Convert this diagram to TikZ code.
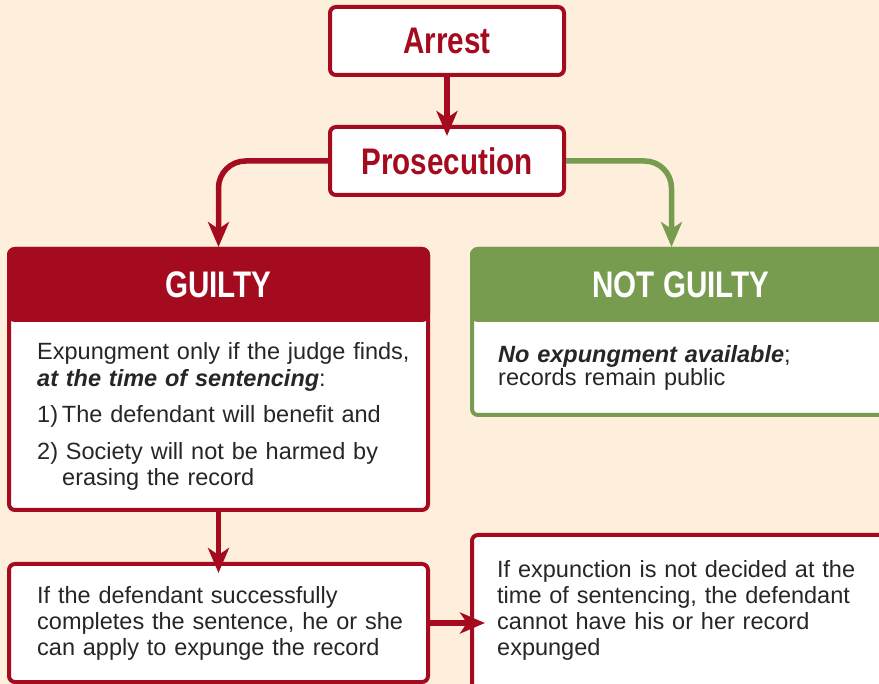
\documentclass[tikz,border=0pt]{standalone}
\usepackage{fontspec}
\setmainfont{Liberation Sans}
\newfontfamily\condf[FakeStretch=0.8]{Liberation Sans}
\usetikzlibrary{arrows.meta}
\definecolor{bgc}{HTML}{FDEFDC}
\definecolor{crim}{HTML}{A50B1F}
\definecolor{grn}{HTML}{779C4F}
\definecolor{txt}{HTML}{262626}
\begin{document}
\begin{tikzpicture}[x=1pt,y=-1pt,
  redbox/.style={draw=crim, line width=4pt, fill=white, rounded corners=6pt, inner sep=0pt},
  grnbox/.style={draw=grn, line width=4pt, fill=white, rounded corners=6pt, inner sep=0pt},
  titletext/.style={font=\condf\bfseries\fontsize{37}{40}\selectfont, inner sep=0pt},
  bodytext/.style={font=\fontsize{23.5}{26.5}\selectfont, text=txt, anchor=base west, align=left, inner sep=0pt},
  arr/.style={line width=5.5pt, -{Stealth[length=25pt,width=21pt,inset=7pt]}},
]
\useasboundingbox (0,0) rectangle (879,684);
\fill[bgc] (0,0) rectangle (879,684);
\clip (0,0) rectangle (879,684);

% top boxes
\node[redbox, minimum width=234pt, minimum height=68pt, text=crim, titletext] (arrest) at (447,41) {Arrest};
\node[redbox, minimum width=234pt, minimum height=68pt, text=crim, titletext] (pros) at (447,161) {Prosecution};

% GUILTY box
\node[redbox, minimum width=419pt, minimum height=261pt] (guilty) at (218.5,379.5) {};
\node[fill=crim, draw=crim, line width=4pt, rounded corners=6pt, minimum width=419pt, minimum height=71pt, inner sep=0pt] (ghead) at (218.5,284.5) {};
\fill[crim] (7,300) rectangle (430,320.5);
\node[titletext, text=white] (gtitle) at (218.5,284.5) {GUILTY};
\node[bodytext, text width=390pt] (gbody) at (37,360) {Expungment only if the judge finds,\\
\textbf{\textit{at the time of sentencing}}:\\[9.5pt]
1)\,The defendant will benefit and\\[10.5pt]
2) Society will not be harmed by\\
\hspace*{25pt}erasing the record};

% NOT GUILTY box
\node[grnbox, minimum width=421pt, minimum height=166pt] (ng) at (682.5,332) {};
\node[fill=grn, draw=grn, line width=4pt, rounded corners=6pt, minimum width=421pt, minimum height=71pt, inner sep=0pt] (nghead) at (682.5,284.5) {};
\fill[grn] (470,300) rectangle (895,320.5);
\node[titletext, text=white] (ngtitle) at (681,284.5) {NOT GUILTY};
\node[bodytext, text width=370pt, font=\fontsize{23.5}{23}\selectfont] (ngbody) at (498,363) {\textbf{\textit{No expungment available}};\\
records remain public};

% bottom boxes
\node[redbox, minimum width=419pt, minimum height=118pt] (bl) at (218.5,623) {};
\node[redbox, minimum width=423pt, minimum height=176pt] (br) at (683.5,623) {};
\node[bodytext, text width=390pt] (bltext) at (37,603) {If the defendant successfully\\
completes the sentence, he or she\\
can apply to expunge the record};
\node[bodytext, text width=390pt, font=\fontsize{23.5}{26}\selectfont] (brtext) at (497,578) {If expunction is not decided at the\\
time of sentencing, the defendant\\
cannot have his or her record\\
expunged};

% connectors
\draw[arr, crim, shorten >=-11pt] (arrest.south) -- (pros.north);
\draw[arr, crim, rounded corners=27pt] (pros.west) -| (guilty.north);
\draw[arr, grn, rounded corners=27pt] (pros.east) -| ([xshift=-11pt]ng.north);
\draw[arr, crim, shorten >=-11pt] (guilty.south) -- (bl.north);
\draw[arr, crim, shorten >=-15pt] (bl.east) -- (br.west);
\end{tikzpicture}
\end{document}
